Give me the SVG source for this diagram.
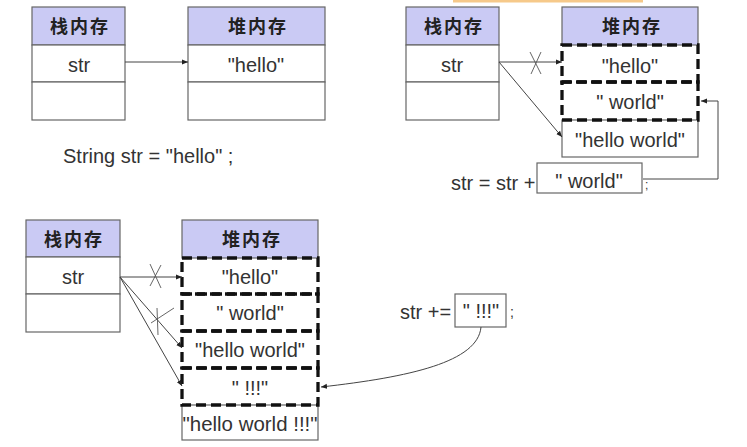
<svg xmlns="http://www.w3.org/2000/svg" width="747" height="447" viewBox="0 0 747 447">
<defs>
<style>
.hdr{fill:#cacaf4;stroke:#666;stroke-width:1.2}
.cell{fill:#fff;stroke:#666;stroke-width:1.2}
.dash{fill:none;stroke:#111;stroke-width:3.3;stroke-dasharray:10 5}
.cn{font-family:"Noto Sans CJK SC",sans-serif;font-weight:bold;font-size:18px;fill:#222;text-anchor:middle;letter-spacing:2px}
.t{font-family:"Liberation Sans",Arial,sans-serif;font-size:20px;fill:#333;text-anchor:middle}
.tl{font-family:"Liberation Sans",Arial,sans-serif;font-size:20px;fill:#333}
.ln{fill:none;stroke:#444;stroke-width:1}
.x{fill:none;stroke:#555;stroke-width:0.9}
</style>
<marker id="ah" markerWidth="6" markerHeight="6" refX="6" refY="3" orient="auto" markerUnits="userSpaceOnUse">
<path d="M0,0.5 L6,3 L0,5.5 Z" fill="#222"/>
</marker>
</defs>
<rect width="747" height="447" fill="#fff"/>
<rect x="453" y="0" width="190" height="2.5" fill="#f6c98a"/>

<!-- Panel 1 -->
<g id="p1-stack">
<rect class="hdr" x="32" y="7" width="93" height="38"/>
<rect class="cell" x="32" y="45" width="93" height="37"/>
<rect class="cell" x="32" y="82" width="93" height="38"/>
<text class="cn" x="80" y="33">栈内存</text>
<text class="t" x="79" y="72">str</text>
</g>
<g id="p1-heap">
<rect class="hdr" x="188" y="7" width="137" height="38"/>
<rect class="cell" x="188" y="45" width="137" height="37"/>
<rect class="cell" x="188" y="82" width="137" height="38"/>
<text class="cn" x="258" y="33">堆内存</text>
<text class="t" x="256" y="72">"hello"</text>
</g>
<text class="tl" x="63" y="163">String str = "hello" ;</text>

<!-- Panel 2 -->
<g id="p2-stack">
<rect class="hdr" x="406" y="7" width="93" height="38"/>
<rect class="cell" x="406" y="45" width="93" height="37"/>
<rect class="cell" x="406" y="82" width="93" height="38"/>
<text class="cn" x="454" y="33">栈内存</text>
<text class="t" x="452" y="72">str</text>
</g>
<g id="p2-heap">
<rect class="hdr" x="562" y="7" width="136" height="38"/>
<rect class="cell" x="562" y="120" width="136" height="37"/>
<rect class="dash" x="562" y="45" width="136" height="37"/>
<rect class="dash" x="562" y="82" width="136" height="38"/>
<text class="cn" x="632" y="33">堆内存</text>
<text class="t" x="630" y="73">"hello"</text>
<text class="t" x="630" y="109">" world"</text>
<text class="t" x="630" y="147">"hello world"</text>
</g>
<g id="p2-expr">
<text class="tl" x="451" y="190">str = str +</text>
<rect class="cell" x="537" y="163" width="105" height="30"/>
<text class="t" x="589" y="188">" world"</text>
<text class="tl" x="645" y="189" style="font-size:12px">;</text>
</g>

<!-- Panel 3 -->
<g id="p3-stack">
<rect class="hdr" x="26" y="220" width="94" height="37"/>
<rect class="cell" x="26" y="257" width="94" height="37"/>
<rect class="cell" x="26" y="294" width="94" height="38"/>
<text class="cn" x="74" y="246">栈内存</text>
<text class="t" x="73" y="284">str</text>
</g>
<g id="p3-heap">
<rect class="hdr" x="182" y="220" width="136" height="38"/>
<rect class="cell" x="182" y="405" width="136" height="35"/>
<rect class="dash" x="182" y="258" width="136" height="36"/>
<rect class="dash" x="182" y="294" width="136" height="37"/>
<rect class="dash" x="182" y="331" width="136" height="37"/>
<rect class="dash" x="182" y="368" width="136" height="37"/>
<text class="cn" x="252" y="246">堆内存</text>
<text class="t" x="250" y="284">"hello"</text>
<text class="t" x="250" y="320">" world"</text>
<text class="t" x="250" y="357">"hello world"</text>
<text class="t" x="250" y="395">" !!!"</text>
<text class="t" x="250" y="431" textLength="135" lengthAdjust="spacingAndGlyphs">"hello world !!!"</text>
</g>
<g id="p3-expr">
<text class="tl" x="400" y="319">str +=</text>
<rect class="cell" x="455" y="294" width="51" height="33"/>
<text class="t" x="481" y="318">" !!!"</text>
<text class="tl" x="510" y="317" style="font-size:14px">;</text>
</g>

<!-- Connectors -->
<g id="connectors">
<line class="ln" x1="125" y1="62" x2="188" y2="62" marker-end="url(#ah)"/>

<line class="ln" x1="499" y1="62" x2="562" y2="62" marker-end="url(#ah)"/>
<path class="x" d="M530,52 L541,74 M531,74 L541,52"/>
<line class="ln" x1="499" y1="62" x2="562" y2="137" marker-end="url(#ah)"/>
<polyline class="ln" points="643,179 718,179 718,101 701,101" marker-end="url(#ah)"/>

<line class="ln" x1="120" y1="277" x2="182" y2="277" marker-end="url(#ah)"/>
<path class="x" d="M150,264 L161,288 M150,286 L161,265"/>
<line class="ln" x1="120" y1="277" x2="182" y2="348" marker-end="url(#ah)"/>
<path class="x" d="M157,308 L158,335 M151,323 L174,308"/>
<line class="ln" x1="120" y1="277" x2="182" y2="386" marker-end="url(#ah)"/>
<path class="ln" d="M481,327 C478,362 410,377 321,387" marker-end="url(#ah)"/>
</g>
</svg>
